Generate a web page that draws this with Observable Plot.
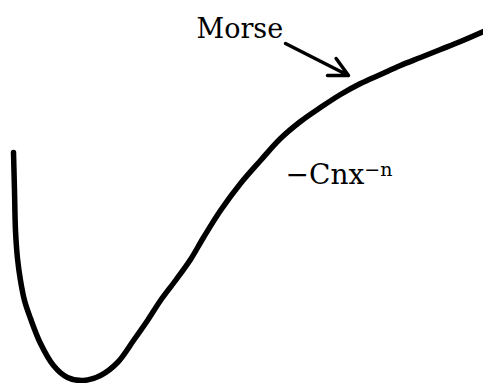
<!DOCTYPE html>
<html>
<head>
<meta charset="utf-8">
<script src="https://cdn.jsdelivr.net/npm/d3@7"></script>
<script src="https://cdn.jsdelivr.net/npm/@observablehq/plot@0.6"></script>
<style>
  html, body { margin: 0; padding: 0; background: #fff; }
</style>
</head>
<body>
<div id="chart"></div>
<script>
// Potential curve: separation r vs. energy (arbitrary units)
const separation = [13, 14, 15, 17, 20, 24, 30, 40, 53, 67, 83, 100, 117, 133, 147, 160, 175, 190, 203, 220, 240, 260, 280, 300, 320, 340, 360, 380, 400, 420, 440, 460, 483];
const energy     = [231, 193, 153, 125, 103, 83, 65, 40, 18, 6, 3, 8, 21, 43, 63, 83, 103, 124, 146, 173, 200, 223, 245, 262, 276, 289, 300, 309, 318, 326, 334, 342, 352];

// Annotation labels (main text + superscript)
const labelText = ["Morse", "−Cnx"];
const labelSup  = ["", "−n"];
const labelX    = [196, 285];
const labelY    = [346, 200];
const labelSize = [27, 28];

// Arrow from "Morse" label to the curve
const arrowX1 = [285], arrowY1 = [340];
const arrowX2 = [348], arrowY2 = [308];

const curveData = separation.map((r, i) => ({r, e: energy[i]}));
const labels = labelText.map((t, i) => ({t, sup: labelSup[i], x: labelX[i], y: labelY[i], size: labelSize[i]}));
const arrows = arrowX1.map((x1, i) => ({x1, y1: arrowY1[i], x2: arrowX2[i], y2: arrowY2[i]}));

const chart = Plot.plot({
  width: 483,
  height: 383,
  margin: 0,
  x: {domain: [0, 483], axis: null},
  y: {domain: [0, 383], axis: null},
  style: {background: "#fff"},
  marks: [
    Plot.line(curveData, {x: "r", y: "e", stroke: "#000", strokeWidth: 5.5, curve: "catmull-rom", strokeLinejoin: "round"}),
    Plot.arrow(arrows, {x1: "x1", y1: "y1", x2: "x2", y2: "y2", stroke: "#000", strokeWidth: 3.5, headLength: 9, headAngle: 54, strokeLinecap: "round"}),
    ...labels.map(d => Plot.text([d], {x: "x", y: "y", text: "t", textAnchor: "start", lineAnchor: "bottom", fontFamily: "DejaVu Serif", fontSize: d.size, fill: "#000", className: "lbl"}))
  ]
});

// add superscripts as tspans
d3.select(chart).selectAll("text").each(function() {
  const el = d3.select(this);
  const txt = el.text();
  const lab = labels.find(l => l.t === txt);
  if (lab && lab.sup) {
    el.append("tspan").attr("dy", "-0.42em").attr("font-size", 19).text(lab.sup);
  }
});
document.getElementById("chart").appendChild(chart);
</script>
</body>
</html>
